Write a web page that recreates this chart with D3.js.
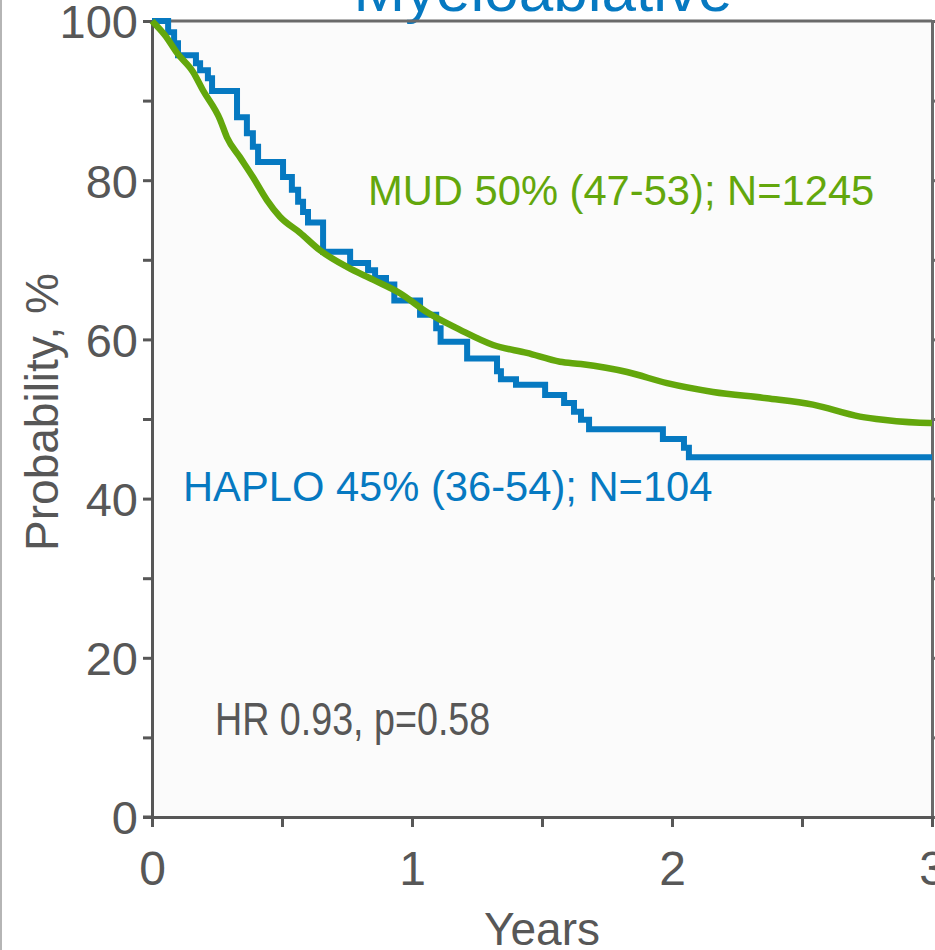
<!DOCTYPE html>
<html><head><meta charset="utf-8">
<script src="https://cdn.jsdelivr.net/npm/d3@7"></script>
<style>
html,body{margin:0;padding:0;background:#fff;}
svg{display:block;}
text{font-family:"Liberation Sans",Arial,sans-serif;}
</style></head>
<body>
<script>
// ---- data ----
const titleText = "Myeloablative";
const yTickValues = [0,10,20,30,40,50,60,70,80,90,100];
const yTickLabels = ["0","","20","","40","","60","","80","","100"];
const xTickValues = [0,0.5,1,1.5,2,2.5,3];
const xTickLabels = ["0","","1","","2","","3"];

const haploTime = [0,0.062,0.085,0.100,0.169,0.185,0.215,0.231,0.327,0.365,0.388,0.408,0.504,0.538,0.562,0.581,0.600,0.658,0.762,0.831,0.858,0.900,0.932,1.031,1.093,1.110,1.212,1.327,1.342,1.400,1.512,1.585,1.623,1.650,1.681,1.965,2.046,2.065,3.0];
const haploSurv = [100,98.6,97.2,95.7,94.7,93.8,92.8,91.2,87.9,85.9,84.2,82.3,80.4,78.8,77.3,76.0,74.7,71.0,69.6,68.7,67.7,66.9,64.9,63.1,61.4,59.7,57.6,56.0,55.0,54.3,53.0,52.0,50.9,49.9,48.7,47.5,46.4,45.2,45.2];

const mudTime = [0,0.05,0.096,0.158,0.196,0.262,0.288,0.338,0.388,0.442,0.492,0.569,0.646,0.75,0.85,0.954,1.058,1.185,1.312,1.442,1.569,1.65,1.827,1.981,2.158,2.365,2.542,2.723,2.812,2.992,3.0];
const mudSurv = [100,98.2,96.0,93.6,91.3,87.6,85.4,82.9,80.4,77.5,75.4,73.4,71.2,69.1,67.5,65.8,63.4,61.2,59.3,58.3,57.2,56.9,55.9,54.5,53.4,52.6,51.8,50.3,49.9,49.5,49.5];

const mudLabel = "MUD 50% (47-53); N=1245";
const haploLabel = "HAPLO 45% (36-54); N=104";
const hrLabel = "HR 0.93, p=0.58";
const xTitle = "Years";
const yTitle = "Probability, %";

// ---- styles ----
const BLUE = "#0679c1", GREEN = "#63a70c", GRAY = "#575757";

const W = 935, H = 950;
const svg = d3.select("body").append("svg").attr("width", W).attr("height", H);

const x = d3.scaleLinear().domain([0,3]).range([152,932]);
const y = d3.scaleLinear().domain([0,100]).range([817,21]);

// left page border
svg.append("line").attr("x1",1).attr("x2",1).attr("y1",0).attr("y2",H)
  .attr("stroke","#b5b5b5").attr("stroke-width",2);

// plot background
svg.append("rect").attr("x",x(0)).attr("y",y(100)).attr("width",x(3)-x(0)).attr("height",y(0)-y(100))
  .attr("fill","#fbfbfb");

// title
svg.append("text").attr("x",543).attr("y",11).attr("text-anchor","middle")
  .attr("font-size",62).attr("fill",BLUE).text(titleText);

// frame top & right
svg.append("line").attr("x1",x(0)).attr("x2",x(3)).attr("y1",y(100)).attr("y2",y(100))
  .attr("stroke","#6a6a6a").attr("stroke-width",3);
const rightAxis = d3.axisRight(y).tickValues(yTickValues).tickSize(9).tickFormat("");
const gR = svg.append("g").attr("transform",`translate(${x(3)},0)`).call(rightAxis);
gR.selectAll("path,line").attr("stroke","#6a6a6a").attr("stroke-width",3);

// y axis
const yAxis = d3.axisLeft(y).tickValues(yTickValues).tickSize(9).tickPadding(5)
  .tickFormat((d,i)=>yTickLabels[i]);
const gY = svg.append("g").attr("transform",`translate(${x(0)},0)`).call(yAxis);
gY.select(".domain").attr("stroke",GRAY).attr("stroke-width",3);
gY.selectAll(".tick line").attr("stroke",GRAY).attr("stroke-width",3);
gY.selectAll(".tick text").attr("font-size",47).attr("fill",GRAY)
  .attr("font-family","'Liberation Sans',Arial,sans-serif").attr("dy","0.36em");

// x axis
const xAxis = d3.axisBottom(x).tickValues(xTickValues).tickSize(10).tickPadding(24)
  .tickFormat((d,i)=>xTickLabels[i]);
const gX = svg.append("g").attr("transform",`translate(0,${y(0)})`).call(xAxis);
gX.select(".domain").attr("stroke",GRAY).attr("stroke-width",3);
gX.selectAll(".tick line").attr("stroke",GRAY).attr("stroke-width",3);
gX.selectAll(".tick text").attr("font-size",48).attr("fill",GRAY)
  .attr("font-family","'Liberation Sans',Arial,sans-serif");
// extend x axis line left to y tick length
svg.append("line").attr("x1",x(0)-9).attr("x2",x(0)).attr("y1",y(0)).attr("y2",y(0))
  .attr("stroke",GRAY).attr("stroke-width",3);

// axis titles
svg.append("text").attr("transform","translate(58,412) rotate(-90)").attr("text-anchor","middle")
  .attr("font-size",46).attr("fill",GRAY).text(yTitle);
svg.append("text").attr("x",542).attr("y",945).attr("text-anchor","middle")
  .attr("font-size",46).attr("fill",GRAY).text(xTitle);

// curves
const haplo = haploTime.map((t,i)=>[t,haploSurv[i]]);
const mud = mudTime.map((t,i)=>[t,mudSurv[i]]);
const stepLine = d3.line().x(d=>x(d[0])).y(d=>y(d[1])).curve(d3.curveStepAfter);
const smoothLine = d3.line().x(d=>x(d[0])).y(d=>y(d[1])).curve(d3.curveMonotoneX);

svg.append("path").datum(haplo).attr("d",stepLine).attr("fill","none")
  .attr("stroke",BLUE).attr("stroke-width",6).attr("stroke-linejoin","miter");
svg.append("path").datum(mud).attr("d",smoothLine).attr("fill","none")
  .attr("stroke",GREEN).attr("stroke-width",6.5).attr("stroke-linejoin","round");

// labels
svg.append("text").attr("x",368).attr("y",205).attr("font-size",41.7).attr("fill",GREEN).text(mudLabel);
svg.append("text").attr("x",183).attr("y",501).attr("font-size",41.7).attr("fill",BLUE).text(haploLabel);
svg.append("text").attr("transform","translate(215,735) scale(0.81,1)")
  .attr("font-size",46.5).attr("fill",GRAY).text(hrLabel);
</script>
</body></html>
